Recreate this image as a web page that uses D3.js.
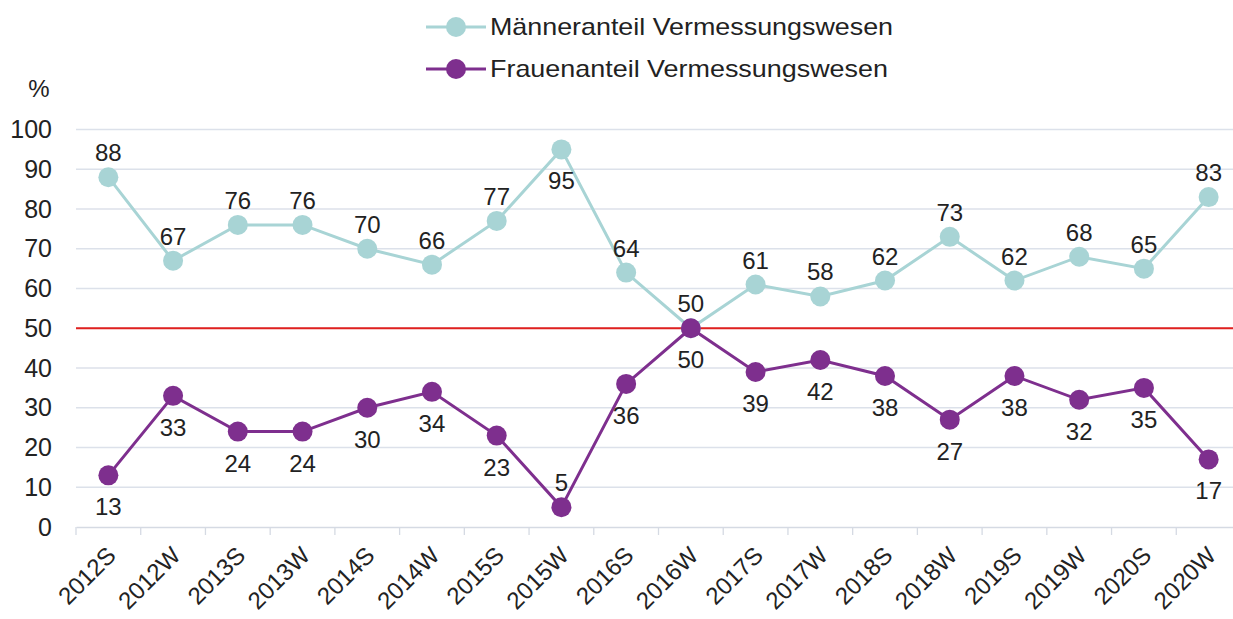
<!DOCTYPE html>
<html>
<head>
<meta charset="utf-8">
<script src="https://cdn.jsdelivr.net/npm/d3@7"></script>
<style>
  html, body { margin: 0; padding: 0; background: #fff; }
  svg { display: block; font-family: "Liberation Sans", Arial, sans-serif; }
</style>
</head>
<body>
<svg id="chart" width="1233" height="619"></svg>
<script>
// Semester categories
const semesters = ["2012S","2012W","2013S","2013W","2014S","2014W","2015S","2015W","2016S",
                   "2016W","2017S","2017W","2018S","2018W","2019S","2019W","2020S","2020W"];
// Share of men / women in surveying (%)
const maennerAnteil = [88,67,76,76,70,66,77,95,64,50,61,58,62,73,62,68,65,83];
const frauenAnteil  = [13,33,24,24,30,34,23,5,36,50,39,42,38,27,38,32,35,17];
const yTicks = [0,10,20,30,40,50,60,70,80,90,100];
const seriesNames = ["Männeranteil Vermessungswesen", "Frauenanteil Vermessungswesen"];
// label placement per point: true = above the marker
const maennerOben = maennerAnteil.map((v, i) => semesters[i] !== "2015W");
const frauenOben  = frauenAnteil.map((v, i) => semesters[i] === "2015W");

const colMen = "#A8D4D5", colWomen = "#7E2F8E";
const textCol = "#222";
const svg = d3.select("#chart");
const W = 1233;

const x = d3.scaleBand().domain(semesters).range([76, 1241]);
const y = d3.scaleLinear().domain([0, 100]).range([527, 129.5]);

// gridlines
svg.append("g").selectAll("line").data(yTicks.filter(d => d > 0)).join("line")
  .attr("x1", 76).attr("x2", W)
  .attr("y1", d => y(d)).attr("y2", d => y(d))
  .attr("stroke", "#DCE1EA").attr("stroke-width", 1.3);

// 50% reference line
svg.append("line").attr("x1", 76).attr("x2", W)
  .attr("y1", y(50)).attr("y2", y(50))
  .attr("stroke", "#E0201F").attr("stroke-width", 2);

// x axis baseline
const xAxis = svg.append("g").attr("transform", `translate(0,${y(0)})`)
  .call(d3.axisBottom(x).tickSize(0).tickFormat(""));
xAxis.select(".domain").attr("stroke", "#D5DAE3").attr("stroke-width", 1.3);
xAxis.selectAll(".tick").remove();
// tick marks between categories
svg.append("g").selectAll("line").data(semesters).join("line")
  .attr("x1", d => x(d)).attr("x2", d => x(d))
  .attr("y1", y(0)).attr("y2", y(0) + 8)
  .attr("stroke", "#D5DAE3").attr("stroke-width", 1.3);

// x labels
svg.append("g").selectAll("text").data(semesters).join("text")
  .attr("transform", d => `translate(${x(d) + x.bandwidth()/2 + 3},${y(0) + 24}) rotate(-45)`)
  .attr("text-anchor", "end").attr("dy", "0.35em")
  .attr("font-size", 24).attr("fill", textCol)
  .text(d => d);

// y labels
const yAxis = svg.append("g").attr("transform", "translate(52,0)")
  .call(d3.axisLeft(y).tickValues(yTicks).tickSize(0).tickPadding(0));
yAxis.select(".domain").remove();
yAxis.selectAll("text").attr("font-size", 25).attr("fill", textCol)
  .attr("font-family", "Liberation Sans, Arial, sans-serif");

svg.append("text").attr("x", 39).attr("y", 97).attr("text-anchor", "middle")
  .attr("font-size", 24).attr("fill", textCol).text("%");

const cx = d => x(d) + x.bandwidth() / 2;
const line = d3.line().x(d => cx(d.s)).y(d => y(d.v));

function drawSeries(values, color, above) {
  const data = values.map((v, i) => ({ s: semesters[i], v, above: above[i] }));
  const g = svg.append("g");
  g.append("path").datum(data).attr("d", line)
    .attr("fill", "none").attr("stroke", color).attr("stroke-width", 3);
  g.selectAll("circle").data(data).join("circle")
    .attr("cx", d => cx(d.s)).attr("cy", d => y(d.v)).attr("r", 10)
    .attr("fill", color);
  return data;
}

const dm = drawSeries(maennerAnteil, colMen, maennerOben);
const dw = drawSeries(frauenAnteil, colWomen, frauenOben);

// value labels
svg.append("g").selectAll("text").data(dm.concat(dw)).join("text")
  .attr("x", d => cx(d.s))
  .attr("y", d => d.above ? y(d.v) - 16 : y(d.v) + 40)
  .attr("text-anchor", "middle").attr("font-size", 24).attr("fill", textCol)
  .text(d => d.v);

// legend
const legend = svg.append("g");
const legendWidths = [403, 398];
[colMen, colWomen].forEach((c, i) => {
  const ly = 27 + i * 42;
  legend.append("line").attr("x1", 426).attr("x2", 486).attr("y1", ly).attr("y2", ly)
    .attr("stroke", c).attr("stroke-width", 3);
  legend.append("circle").attr("cx", 456).attr("cy", ly).attr("r", 10).attr("fill", c);
  legend.append("text").attr("x", 490).attr("y", ly).attr("dy", "0.35em")
    .attr("font-size", 24).attr("fill", textCol)
    .attr("textLength", legendWidths[i]).attr("lengthAdjust", "spacingAndGlyphs")
    .text(seriesNames[i]);
});
</script>
</body>
</html>
